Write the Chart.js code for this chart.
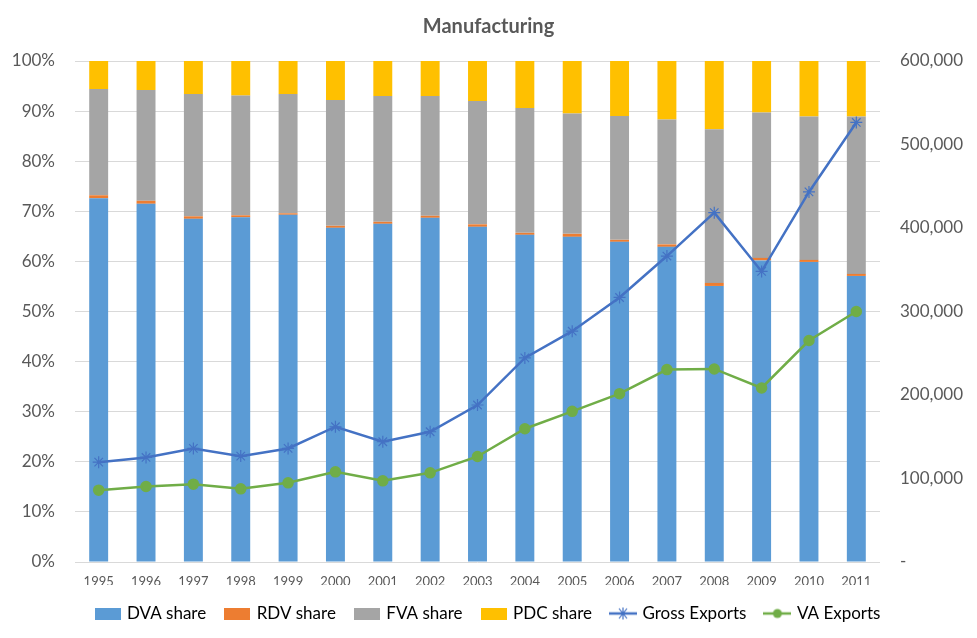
<!DOCTYPE html>
<html>
<head>
<meta charset="utf-8">
<title>Manufacturing</title>
<script src="https://cdn.jsdelivr.net/npm/chart.js@4/dist/chart.umd.min.js"></script>
<style>
  html, body { margin: 0; padding: 0; background: #fff; }
  #wrap { width: 977px; height: 638px; position: relative; }
</style>
</head>
<body>
<div id="wrap"><canvas id="chartMfg"></canvas></div>
<script>
// ---------------------------------------------------------------------------
// Data
// ---------------------------------------------------------------------------
const years = ["1995", "1996", "1997", "1998", "1999", "2000", "2001", "2002", "2003",
               "2004", "2005", "2006", "2007", "2008", "2009", "2010", "2011"];

// shares in % of gross exports (stacked to 100)
const dvaShare = [72.6, 71.5, 68.5, 68.8, 69.3, 66.7, 67.5, 68.7, 66.9, 65.3, 64.9, 63.9, 62.9, 55.1, 60.2, 59.9, 57.1];
const rdvShare = [0.6, 0.6, 0.5, 0.4, 0.3, 0.4, 0.4, 0.4, 0.5, 0.4, 0.6, 0.4, 0.5, 0.6, 0.5, 0.4, 0.4];
const fvaShare = [21.2, 22.1, 24.4, 23.9, 23.8, 25.1, 25.1, 23.9, 24.6, 24.9, 24.0, 24.7, 24.9, 30.7, 29.0, 28.6, 31.4];
const pdcShare = [5.6, 5.8, 6.6, 6.9, 6.6, 7.8, 7.0, 7.0, 8.0, 9.4, 10.5, 11.0, 11.7, 13.6, 10.3, 11.1, 11.1];

// export values (right axis)
const grossExports = [119600, 125200, 136000, 126800, 136000, 162000, 144000, 156000, 188000,
                      244400, 276400, 316800, 366400, 418400, 348000, 443200, 526400];
const vaExports = [86000, 90400, 93200, 87600, 94800, 108000, 97200, 106800, 126400,
                   159600, 180400, 201600, 230400, 231200, 208400, 265200, 300000];

const COLORS = {
  dva: "#5B9BD5",
  rdv: "#ED7D31",
  fva: "#A5A5A5",
  pdc: "#FFC000",
  gross: "#4472C4",
  va: "#70AD47",
  text: "#595959",
  grid: "#D9D9D9",
};

const FONT = "Lato, 'Open Sans', sans-serif";

// ---------------------------------------------------------------------------
// Legend icons (Excel style: boxes for bars, line + marker for lines)
// ---------------------------------------------------------------------------
function boxIcon(color) {
  const c = document.createElement("canvas");
  c.width = 26; c.height = 12;
  const g = c.getContext("2d");
  g.fillStyle = color;
  g.fillRect(0, 0, 26, 12);
  return c;
}

function lineIcon(color, marker) {
  const c = document.createElement("canvas");
  c.width = 28; c.height = 14;
  const g = c.getContext("2d");
  g.strokeStyle = color;
  g.fillStyle = color;
  g.lineWidth = 2.5;
  g.beginPath(); g.moveTo(0, 7); g.lineTo(28, 7); g.stroke();
  if (marker === "star") {
    g.lineWidth = 1.2;
    g.beginPath();
    g.moveTo(10, 2); g.lineTo(18, 12);
    g.moveTo(18, 2); g.lineTo(10, 12);
    g.moveTo(14, 1); g.lineTo(14, 13);
    g.stroke();
  } else {
    g.beginPath(); g.arc(14, 7, 4.5, 0, Math.PI * 2); g.fill();
  }
  return c;
}

// ---------------------------------------------------------------------------
// Chart
// ---------------------------------------------------------------------------
Chart.defaults.font.family = FONT;
Chart.defaults.color = COLORS.text;

const barBase = { type: "bar", yAxisID: "y", stack: "shares", order: 2,
                  barPercentage: 0.4, categoryPercentage: 1, borderWidth: 0 };

new Chart(document.getElementById("chartMfg"), {
  data: {
    labels: years,
    datasets: [
      { ...barBase, label: "DVA share", data: dvaShare, backgroundColor: COLORS.dva, icon: boxIcon(COLORS.dva) },
      { ...barBase, label: "RDV share", data: rdvShare, backgroundColor: COLORS.rdv, icon: boxIcon(COLORS.rdv) },
      { ...barBase, label: "FVA share", data: fvaShare, backgroundColor: COLORS.fva, icon: boxIcon(COLORS.fva) },
      { ...barBase, label: "PDC share", data: pdcShare, backgroundColor: COLORS.pdc, icon: boxIcon(COLORS.pdc) },
      {
        type: "line", label: "Gross Exports", data: grossExports, yAxisID: "y1", order: 0,
        borderColor: COLORS.gross, backgroundColor: COLORS.gross, borderWidth: 2.5,
        pointStyle: "star", pointRadius: 6, pointBorderWidth: 1.2, tension: 0,
        icon: lineIcon(COLORS.gross, "star"),
      },
      {
        type: "line", label: "VA Exports", data: vaExports, yAxisID: "y1", order: 1,
        borderColor: COLORS.va, backgroundColor: COLORS.va, borderWidth: 2.5,
        pointStyle: "circle", pointRadius: 4.5, tension: 0,
        icon: lineIcon(COLORS.va, "circle"),
      },
    ],
  },
  options: {
    responsive: true,
    maintainAspectRatio: false,
    animation: false,
    layout: { padding: { bottom: 6 } },
    plugins: {
      title: {
        display: true,
        text: "Manufacturing",
        color: COLORS.text,
        font: { size: 20, weight: "bold" },
        padding: { top: 15, bottom: 22 },
      },
      legend: {
        position: "bottom",
        labels: {
          usePointStyle: true,
          boxWidth: 22,
          pointStyleWidth: 22,
          padding: 20,
          color: COLORS.text,
          font: { size: 17 },
          generateLabels: (chart) =>
            chart.data.datasets.map((ds, i) => ({
              text: ds.label,
              pointStyle: ds.icon,
              fillStyle: ds.backgroundColor,
              strokeStyle: ds.backgroundColor,
              lineWidth: 0,
              hidden: !chart.isDatasetVisible(i),
              datasetIndex: i,
            })),
        },
      },
      tooltip: { enabled: false },
    },
    scales: {
      x: {
        stacked: true,
        grid: { display: false, drawTicks: false },
        border: { display: false },
        ticks: { padding: 12, font: { size: 13 }, color: COLORS.text, maxRotation: 0 },
        afterFit: (s) => { s.height = 23; },
      },
      y: {
        stacked: true,
        position: "left",
        min: 0,
        max: 100,
        grid: { color: COLORS.grid, drawTicks: false },
        border: { display: false },
        ticks: {
          stepSize: 10,
          padding: 20,
          font: { size: 17 },
          color: COLORS.text,
          callback: (v) => `${v}%`,
        },
        afterFit: (s) => { s.width = 75; },
      },
      y1: {
        position: "right",
        min: 0,
        max: 600000,
        grid: { display: false, drawTicks: false },
        border: { display: false },
        ticks: {
          stepSize: 100000,
          padding: 20,
          font: { size: 17 },
          color: COLORS.text,
          callback: (v) => (v === 0 ? "-" : v.toLocaleString("en-US")),
        },
        afterFit: (s) => { s.width = 97; },
      },
    },
  },
});
</script>
</body>
</html>
